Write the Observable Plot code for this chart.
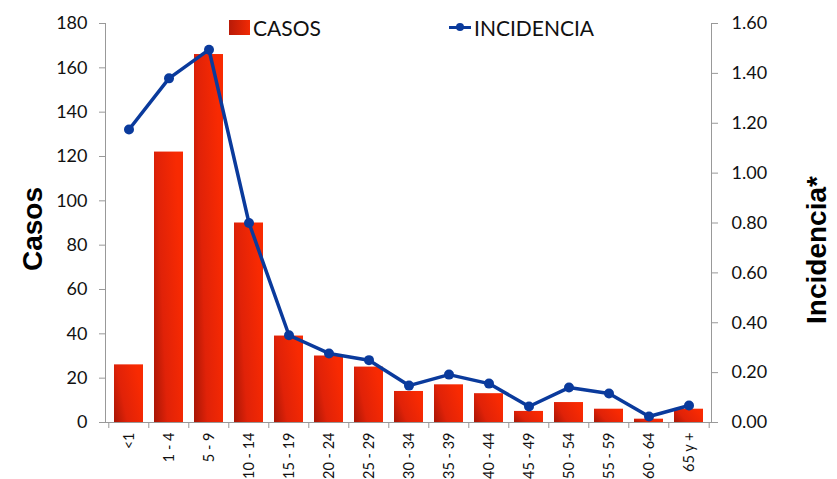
<!DOCTYPE html>
<html>
<head>
<meta charset="utf-8">
<script src="https://cdn.jsdelivr.net/npm/d3@7"></script>
<script src="https://cdn.jsdelivr.net/npm/@observablehq/plot@0.6"></script>
<style>
  body { margin: 0; background: #fff; }
  #wrap { position: relative; width: 837px; height: 479px; }
  .legend { position: absolute; top: 15px; font-family: Lato, "Open Sans", sans-serif; font-size: 21px; color: #111; display: flex; align-items: center; }
  .sw { display: inline-block; width: 21px; height: 15px; background: linear-gradient(90deg, #b81a08, #f22a04); margin-right: 3px; }
  .ln { display: inline-block; width: 22px; height: 3px; background: #0a3a9c; position: relative; margin-right: 3px; }
  .ln::after { content: ""; position: absolute; left: 7px; top: -3px; width: 8px; height: 8px; border-radius: 50%; background: #0a3a9c; }
</style>
</head>
<body>
<div id="wrap">
  <div class="legend" style="left:229px"><span class="sw"></span>CASOS</div>
  <div class="legend" style="left:449px"><span class="ln"></span>INCIDENCIA</div>
</div>
<script>
const categories = ["<1","1 - 4","5 - 9","10 - 14","15 - 19","20 - 24","25 - 29","30 - 34","35 - 39","40 - 44","45 - 49","50 - 54","55 - 59","60 - 64","65 y +"];
const casos = [26,122,166,90,39,30,25,14,17,13,5,9,6,1.5,6];
const incidencia = [1.175,1.38,1.495,0.80,0.35,0.277,0.25,0.148,0.192,0.156,0.064,0.14,0.116,0.024,0.068];
const casosTicks = [0,20,40,60,80,100,120,140,160,180];
const incTicks = [0,0.2,0.4,0.6,0.8,1.0,1.2,1.4,1.6];

const k = 180 / 1.6;
const data = categories.map((c, i) => ({cat: c, casos: casos[i], inc: incidencia[i], incScaled: incidencia[i] * k}));
const step = (837 - 105 - 126) / categories.length;

const chart = Plot.plot({
  width: 837,
  height: 479,
  marginLeft: 105,
  marginRight: 126,
  marginTop: 23,
  marginBottom: 57,
  style: {fontFamily: "Lato, 'Open Sans', sans-serif", color: "#111", background: "#fff"},
  x: {domain: categories, paddingInner: 0.28, paddingOuter: 0.14, label: null},
  y: {domain: [0, 180], label: null},
  marks: [
    Plot.barY(data, {x: "cat", y: "casos", fill: "url(#barGrad)"}),
    Plot.ruleY([0], {stroke: "#999", strokeWidth: 1}),
    Plot.frame({anchor: "left", stroke: "#999"}),
    Plot.frame({anchor: "right", stroke: "#999"}),
    Plot.axisY({ticks: casosTicks, tickSize: 6, tickPadding: 12, stroke: "#999", fontSize: 18, label: null}),
    Plot.axisY({anchor: "right", ticks: incTicks.map(d => d * k), tickFormat: d => (d / k).toFixed(2), tickSize: 6, tickPadding: 14, stroke: "#999", fontSize: 18, label: null, textAnchor: "start"}),
    Plot.axisX({tickSize: 0, tickRotate: -90, tickPadding: 10, fontSize: 14.5, label: null}),
    Plot.axisX({tickSize: 6, text: null, dx: -step / 2, stroke: "#999"}),
    Plot.axisX({ticks: [categories[categories.length - 1]], tickSize: 6, text: null, dx: step / 2, stroke: "#999"}),
    Plot.line(data, {x: "cat", y: "incScaled", stroke: "#0a3a9c", strokeWidth: 3.5}),
    Plot.dot(data, {x: "cat", y: "incScaled", r: 5, fill: "#0a3a9c"}),
    Plot.text(["Casos"], {frameAnchor: "left", textAnchor: "middle", dx: -72, dy: 6, rotate: -90, fontSize: 28, fontWeight: "bold", fontFamily: "'Liberation Sans', Arial, sans-serif", fill: "#000"}),
    Plot.text(["Incidencia*"], {frameAnchor: "right", textAnchor: "middle", dx: 106, dy: 27, rotate: -90, fontSize: 28, fontWeight: "bold", fontFamily: "'Liberation Sans', Arial, sans-serif", fill: "#000"})
  ]
});

const ns = "http://www.w3.org/2000/svg";
const defs = document.createElementNS(ns, "defs");
defs.innerHTML = `<linearGradient id="barGrad" x1="0" y1="1" x2="1" y2="0.6">
  <stop offset="0" stop-color="#a81606"/>
  <stop offset="0.4" stop-color="#e02208"/>
  <stop offset="1" stop-color="#f82a02"/>
</linearGradient>`;
chart.insertBefore(defs, chart.firstChild);
document.getElementById("wrap").insertBefore(chart, document.getElementById("wrap").firstChild);
</script>
</body>
</html>
